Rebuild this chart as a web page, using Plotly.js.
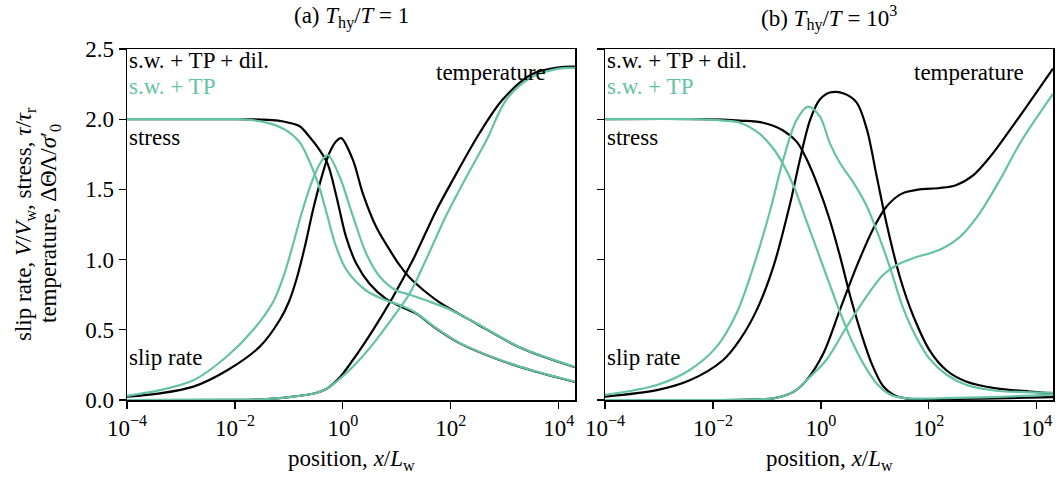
<!DOCTYPE html>
<html>
<head>
<meta charset="utf-8">
<script src="https://cdn.plot.ly/plotly-3.0.1.min.js"></script>
<style>html,body{margin:0;padding:0;background:#fff;}#chart{width:1061px;height:484px;}</style>
</head>
<body>
<div id="chart"></div>
<script>
// ---------- Data (x given as log10 of position x/L_w) ----------
// Panel (a): T_hy/T = 1
const logxStressDilA = [-4, -2, -1.5, -1.2, -1.0, -0.8, -0.62, -0.43, -0.28, -0.12, 0.06, 0.25, 0.49, 0.8, 1.1, 1.36, 1.67, 2.16, 2.9, 3.5, 4.3];
const stressDilA     = [2.0, 2.0, 1.997, 1.99, 1.975, 1.95, 1.875, 1.78, 1.68, 1.45, 1.16, 0.97, 0.83, 0.72, 0.66, 0.615, 0.525, 0.405, 0.285, 0.21, 0.128];
const logxStressTpA  = [-4, -2, -1.79, -1.36, -1.05, -0.80, -0.62, -0.45, -0.30, -0.15, 0.06, 0.43, 0.80, 1.1, 1.36, 1.67, 2.16, 2.9, 3.5, 4.3];
const stressTpA      = [2.0, 2.0, 1.998, 1.97, 1.92, 1.835, 1.70, 1.53, 1.33, 1.12, 0.93, 0.78, 0.71, 0.67, 0.62, 0.528, 0.407, 0.287, 0.212, 0.13];
const logxSlipDilA   = [-4, -3.39, -2.77, -2.15, -1.54, -1.17, -1.0, -0.86, -0.7, -0.55, -0.4, -0.25, -0.12, -0.03, 0.185, 0.37, 0.62, 0.93, 1.05, 1.24, 1.5, 1.85, 2.47, 3.3, 4.3];
const slipDilA       = [0.024, 0.047, 0.095, 0.21, 0.38, 0.57, 0.70, 0.86, 1.10, 1.36, 1.58, 1.76, 1.845, 1.865, 1.71, 1.47, 1.23, 1.03, 0.96, 0.87, 0.78, 0.68, 0.545, 0.37, 0.233];
const logxSlipTpA    = [-4, -3.39, -2.77, -2.15, -1.66, -1.29, -1.10, -0.93, -0.75, -0.55, -0.40, -0.28, -0.06, 0.185, 0.43, 0.68, 0.99, 1.24, 1.54, 1.98, 2.47, 3.3, 4.3];
const slipTpA        = [0.03, 0.07, 0.14, 0.31, 0.50, 0.70, 0.88, 1.10, 1.35, 1.58, 1.70, 1.745, 1.59, 1.31, 1.045, 0.88, 0.78, 0.75, 0.71, 0.645, 0.547, 0.372, 0.235];
const logxTempDilA   = [-4, -2, -1.5, -1.0, -0.5, -0.3, -0.06, 0.185, 0.56, 0.93, 1.30, 1.73, 2.04, 2.53, 2.96, 3.5, 4.0, 4.3];
const tempDilA       = [0, 0.001, 0.005, 0.02, 0.05, 0.08, 0.16, 0.285, 0.50, 0.735, 1.0, 1.35, 1.57, 1.90, 2.14, 2.32, 2.37, 2.375];
const logxTempTpA    = [-4, -2, -1.5, -1.0, -0.5, -0.3, -0.06, 0.185, 0.56, 0.93, 1.24, 1.54, 1.91, 2.29, 2.66, 3.03, 3.5, 4.0, 4.3];
const tempTpA        = [0, 0.001, 0.005, 0.02, 0.05, 0.08, 0.15, 0.237, 0.40, 0.59, 0.76, 1.0, 1.31, 1.59, 1.85, 2.14, 2.30, 2.36, 2.365];

// Panel (b): T_hy/T = 10^3
const logxStressDilB = [-4, -2.2, -1.5, -1.07, -0.70, -0.45, -0.27, -0.05, 0.15, 0.35, 0.55, 0.75, 0.95, 1.15, 1.35, 1.6, 2.5, 3.5, 4.3];
const stressDilB     = [2.0, 2.0, 1.99, 1.975, 1.92, 1.84, 1.72, 1.52, 1.30, 1.03, 0.73, 0.47, 0.25, 0.10, 0.035, 0.01, 0.008, 0.014, 0.02];
const logxStressTpB  = [-4, -2.4, -1.8, -1.5, -1.15, -0.9, -0.7, -0.5, -0.3, -0.1, 0.1, 0.3, 0.55, 0.8, 1.05, 1.3, 1.6, 2.5, 3.5, 4.3];
const stressTpB      = [2.0, 2.0, 1.99, 1.975, 1.90, 1.80, 1.68, 1.52, 1.31, 1.10, 0.89, 0.68, 0.44, 0.25, 0.11, 0.035, 0.012, 0.015, 0.025, 0.038];
const logxSlipDilB   = [-4, -3.04, -2.43, -1.81, -1.50, -1.19, -0.88, -0.57, -0.39, -0.20, -0.02, 0.166, 0.41, 0.66, 0.85, 1.03, 1.22, 1.46, 1.71, 2.02, 2.33, 2.70, 3.25, 3.87, 4.3];
const slipDilB       = [0.024, 0.07, 0.14, 0.285, 0.43, 0.64, 0.95, 1.40, 1.71, 1.995, 2.14, 2.19, 2.185, 2.12, 1.93, 1.60, 1.25, 0.88, 0.60, 0.35, 0.21, 0.13, 0.083, 0.06, 0.047];
const logxSlipTpB    = [-4, -3.04, -2.43, -1.93, -1.56, -1.25, -0.94, -0.70, -0.45, -0.24, -0.02, 0.166, 0.35, 0.6, 0.85, 1.09, 1.3, 1.5, 1.75, 2.02, 2.33, 2.70, 3.25, 3.9, 4.3];
const slipTpB        = [0.036, 0.107, 0.214, 0.38, 0.62, 0.95, 1.35, 1.71, 1.995, 2.09, 2.02, 1.83, 1.69, 1.55, 1.38, 1.15, 0.92, 0.68, 0.46, 0.29, 0.18, 0.107, 0.066, 0.055, 0.052];
const logxTempDilB   = [-4, -2, -1.2, -0.88, -0.5, -0.27, 0.043, 0.35, 0.66, 0.97, 1.22, 1.5, 1.83, 2.2, 2.5, 2.82, 3.13, 3.44, 3.81, 4.3];
const tempDilB       = [0, 0.0, 0.005, 0.012, 0.06, 0.14, 0.33, 0.64, 0.95, 1.22, 1.38, 1.47, 1.50, 1.51, 1.53, 1.60, 1.73, 1.89, 2.09, 2.36];
const logxTempTpB    = [-4, -2, -1.2, -0.88, -0.5, -0.27, 0.10, 0.475, 0.85, 1.15, 1.4, 1.71, 2.2, 2.57, 2.94, 3.32, 3.69, 4.3];
const tempTpB        = [0, 0.0, 0.005, 0.012, 0.06, 0.14, 0.285, 0.52, 0.74, 0.89, 0.96, 1.01, 1.07, 1.16, 1.33, 1.57, 1.83, 2.18];

// Text
const panelTitles = ['(a) <i>T</i><sub>hy</sub>/<i>T</i> = 1', '(b) <i>T</i><sub>hy</sub>/<i>T</i> = 10<sup>3</sup>'];
const legendDil = 's.w. + TP + dil.';
const legendTp = 's.w. + TP';
const xTitle = 'position, <i>x</i>/<i>L</i><sub>w</sub>';
const yTitle1 = 'slip rate, <i>V</i>/<i>V</i><sub>w</sub>, stress, <i>τ</i>/<i>τ</i><sub>r</sub>';
const yTitle2 = 'temperature, ΔΘΛ/<i>σ</i>′<sub>0</sub>';
const yTickVals = [0, 0.5, 1.0, 1.5, 2.0, 2.5];
const xTickVals = [1e-4, 1e-2, 1, 1e2, 1e4];
const xTickText = ['10<sup>−4</sup>', '10<sup>−2</sup>', '10<sup>0</sup>', '10<sup>2</sup>', '10<sup>4</sup>'];

// ---------- Build ----------
const BLACK = '#000000', GREEN = '#66c2a5';
const FONT = 'Liberation Serif, Times New Roman, serif';
const FS = 23;
function tr(logx, y, color, xa, ya) {
  return {x: logx.map(v => Math.pow(10, v)), y: y, xaxis: xa, yaxis: ya, type: 'scatter', mode: 'lines',
    line: {color: color, width: 2.2, shape: 'spline', smoothing: 0.9}, hoverinfo: 'skip', showlegend: false};
}
const data = [
  tr(logxStressDilA, stressDilA, BLACK, 'x', 'y'),
  tr(logxSlipDilA, slipDilA, BLACK, 'x', 'y'),
  tr(logxTempDilA, tempDilA, BLACK, 'x', 'y'),
  tr(logxStressTpA, stressTpA, GREEN, 'x', 'y'),
  tr(logxSlipTpA, slipTpA, GREEN, 'x', 'y'),
  tr(logxTempTpA, tempTpA, GREEN, 'x', 'y'),
  tr(logxStressDilB, stressDilB, BLACK, 'x2', 'y2'),
  tr(logxSlipDilB, slipDilB, BLACK, 'x2', 'y2'),
  tr(logxTempDilB, tempDilB, BLACK, 'x2', 'y2'),
  tr(logxStressTpB, stressTpB, GREEN, 'x2', 'y2'),
  tr(logxSlipTpB, slipTpB, GREEN, 'x2', 'y2'),
  tr(logxTempTpB, tempTpB, GREEN, 'x2', 'y2')
];

const W = 1061, H = 484;
const ydom = [(H - 400) / H, (H - 49) / H];
function xax(dom, anchor) {
  return {type: 'log', domain: dom, anchor: anchor, range: [-4, 4.3], tickvals: xTickVals, ticktext: xTickText,
    ticks: 'outside', ticklen: 7, tickwidth: 1.2, tickcolor: BLACK, showline: true, mirror: true, linecolor: BLACK, linewidth: 1.5,
    showgrid: false, zeroline: false, tickfont: {family: FONT, size: FS, color: BLACK}};
}
function yax(anchor, labels) {
  return {domain: ydom, anchor: anchor, range: [0, 2.5], tickvals: yTickVals, tickformat: '.1f', showticklabels: labels,
    ticks: 'outside', ticklen: 7, tickwidth: 1.2, tickcolor: BLACK, showline: true, mirror: true, linecolor: BLACK, linewidth: 1.5,
    showgrid: false, zeroline: false, tickfont: {family: FONT, size: FS, color: BLACK}};
}
function ann(text, xref, yref, x, y, xanchor, color, extra) {
  return Object.assign({text: text, xref: xref, yref: yref, x: x, y: y, xanchor: xanchor, yanchor: 'middle',
    showarrow: false, font: {family: FONT, size: FS, color: color}}, extra || {});
}
const annotations = [];
[['x', 'y'], ['x2', 'y2']].forEach(function (p, i) {
  const xd = p[0] + ' domain';
  annotations.push(ann(panelTitles[i], xd, 'paper', 0.5, (H - 18) / H, 'center', BLACK));
  annotations.push(ann(xTitle, xd, 'paper', 0.5, (H - 460) / H, 'center', BLACK));
  annotations.push(ann(legendDil, xd, p[1], 0.0, 2.42, 'left', BLACK));
  annotations.push(ann(legendTp, xd, p[1], 0.0, 2.23, 'left', GREEN));
  annotations.push(ann('stress', xd, p[1], 0.0, 1.87, 'left', BLACK));
  annotations.push(ann('slip rate', xd, p[1], 0.0, 0.30, 'left', BLACK));
  annotations.push(ann('temperature', xd, p[1], 0.94, 2.33, 'right', BLACK));
});
annotations.push(ann(yTitle1, 'paper', 'paper', 25 / W, (H - 224) / H, 'center', BLACK, {textangle: -90}));
annotations.push(ann(yTitle2, 'paper', 'paper', 50 / W, (H - 224) / H, 'center', BLACK, {textangle: -90}));

const layout = {
  width: W, height: H, margin: {l: 0, r: 0, t: 0, b: 0}, paper_bgcolor: '#fff', plot_bgcolor: '#fff',
  showlegend: false,
  xaxis: xax([127 / W, 575 / W], 'y'),
  yaxis: yax('x', true),
  xaxis2: xax([605 / W, 1053 / W], 'y2'),
  yaxis2: yax('x2', false),
  annotations: annotations
};
Plotly.newPlot('chart', data, layout, {staticPlot: true, displayModeBar: false});
</script>
</body>
</html>
